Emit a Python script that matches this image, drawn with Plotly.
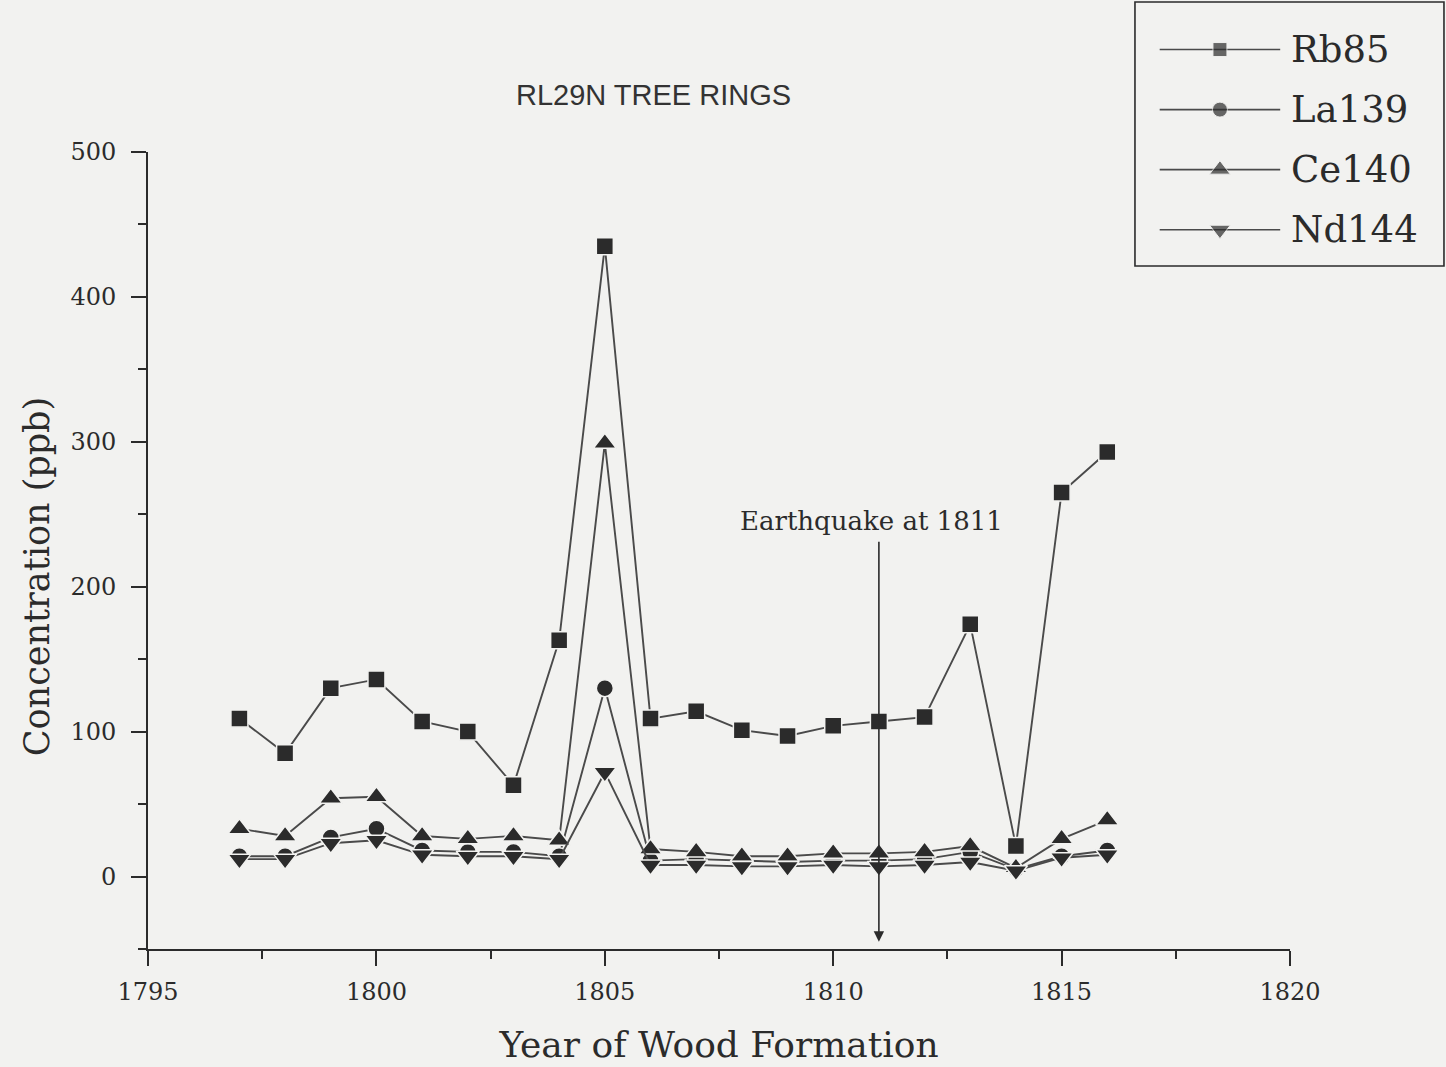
import plotly.graph_objects as go

# Ring years and element concentrations (ppb)
years = list(range(1797, 1817))
rb85 = [109, 85, 130, 136, 107, 100, 63, 163, 435, 109, 114, 101, 97, 104, 107, 110, 174, 21, 265, 293]
la139 = [14, 14, 27, 33, 18, 17, 17, 14, 130, 11, 12, 11, 10, 11, 11, 12, 17, 5, 14, 18]
ce140 = [33, 28, 54, 55, 28, 26, 28, 25, 299, 19, 17, 14, 14, 16, 16, 17, 21, 6, 26, 39]
nd144 = [12, 12, 23, 25, 15, 14, 14, 12, 72, 8, 8, 7, 7, 8, 7, 8, 10, 4, 13, 15]

series_names = ["Rb85", "La139", "Ce140", "Nd144"]
series_values = [rb85, la139, ce140, nd144]
series_symbols = ["square", "circle", "triangle-up", "triangle-down"]
symbol_sizes = [17, 17, 20, 20]
key_sizes = [14, 15, 18, 18]

x_ticks = [1795, 1800, 1805, 1810, 1815, 1820]
y_ticks = [0, 100, 200, 300, 400, 500]

event_year = 1811
event_label = "Earthquake at 1811"

BG = "#f2f2f0"
INK = "#2b2b2b"
LINE = "#4a4a4a"
SERIF = "DejaVu Serif"

fig = go.Figure()

for name, vals, sym, sz in zip(series_names, series_values, series_symbols, symbol_sizes):
    fig.add_trace(go.Scatter(
        x=years, y=vals, name=name, mode="lines+markers",
        line=dict(color=LINE, width=1.9),
        marker=dict(symbol=sym, size=sz, color=INK, line=dict(color=BG, width=1.5)),
        showlegend=False,
    ))

# Boxed key drawn on its own small axes
key_rows = [3.28, 2.37, 1.46, 0.55]
for name, sym, row, ks in zip(series_names, series_symbols, key_rows, key_sizes):
    fig.add_trace(go.Scatter(
        x=[0.08, 0.275, 0.47], y=[row] * 3, mode="lines+markers",
        line=dict(color=LINE, width=1.6),
        marker=dict(symbol=sym, size=[0, ks, 0], color=INK, line=dict(color=BG, width=1)),
        xaxis="x2", yaxis="y2", showlegend=False, hoverinfo="skip",
    ))
    fig.add_annotation(
        x=0.5, y=row, xref="x2", yref="y2", text=name, showarrow=False,
        xanchor="left", yanchor="middle",
        font=dict(family=SERIF, size=37, color=INK),
    )

fig.add_shape(type="rect", xref="x2 domain", yref="y2 domain", x0=0, x1=1, y0=0, y1=1,
              line=dict(color=INK, width=1.6))

# Earthquake marker: arrow down to the axis with a label above
fig.add_annotation(
    x=event_year, y=-45, ax=event_year, ay=232, xref="x", yref="y", axref="x", ayref="y",
    text="", showarrow=True, arrowhead=2, arrowsize=1.3, arrowwidth=1.6, arrowcolor=INK,
)
fig.add_annotation(
    x=event_year - 0.17, y=245, xref="x", yref="y", text=event_label, showarrow=False,
    xanchor="center", yanchor="middle", font=dict(family=SERIF, size=26, color=INK),
)

fig.add_annotation(
    x=0.452, y=0.911, xref="paper", yref="paper", text="RL29N TREE RINGS", showarrow=False,
    xanchor="center", yanchor="middle", font=dict(family="Liberation Sans", size=29, color="#333"),
)

# Vertical axis title
fig.add_annotation(
    x=0.0256, y=0.459, xref="paper", yref="paper", text="Concentration (ppb)", showarrow=False,
    textangle=-90, xanchor="center", yanchor="middle",
    font=dict(family=SERIF, size=35, color=INK),
)

fig.update_layout(
    width=1446, height=1067,
    margin=dict(l=0, r=0, t=0, b=0),
    paper_bgcolor=BG, plot_bgcolor=BG,
    showlegend=False,
    xaxis=dict(
        domain=[0.1024, 0.8921], range=[1795, 1820],
        tickvals=x_ticks, ticktext=[str(v) for v in x_ticks],
        ticks="outside", ticklen=15, tickwidth=2, tickcolor=INK,
        minor=dict(dtick=2.5, tick0=1795, ticks="outside", ticklen=8, tickwidth=2, tickcolor=INK),
        showline=True, linecolor=INK, linewidth=2, showgrid=False, zeroline=False,
        tickfont=dict(family=SERIF, size=24, color=INK), ticklabelstandoff=5,
        title=dict(text="Year of Wood Formation", font=dict(family=SERIF, size=36, color=INK), standoff=27),
        automargin=False,
    ),
    yaxis=dict(
        domain=[0.1106, 0.8576], range=[-50, 500],
        tickvals=y_ticks, ticktext=[str(v) for v in y_ticks],
        ticks="outside", ticklen=15, tickwidth=2, tickcolor=INK,
        minor=dict(dtick=50, tick0=0, ticks="outside", ticklen=8, tickwidth=2, tickcolor=INK),
        showline=True, linecolor=INK, linewidth=2, showgrid=False, zeroline=False,
        tickfont=dict(family=SERIF, size=24, color=INK), ticklabelstandoff=10,
        automargin=False,
    ),
    xaxis2=dict(domain=[0.7849, 0.9986], range=[0, 1], visible=False, fixedrange=True, anchor="y2"),
    yaxis2=dict(domain=[0.7507, 0.9981], range=[0, 4], visible=False, fixedrange=True, anchor="x2"),
)

fig.write_html("out.html")
